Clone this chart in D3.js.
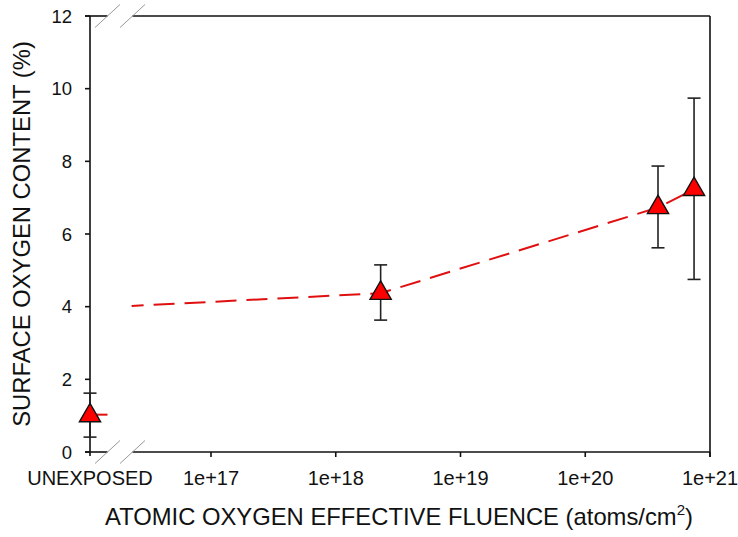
<!DOCTYPE html>
<html><head><meta charset="utf-8">
<script src="https://cdn.jsdelivr.net/npm/d3@7"></script>
<style>
body{margin:0;background:#fff;}
text{font-family:"Liberation Sans",Arial,sans-serif;fill:#111;}
</style></head>
<body><svg id="c" width="738" height="537"></svg>
<script>
// ---- data ----
const unexposedLabel = "UNEXPOSED";
const unexposedValue = 1.0;
const unexposedErrLow = 0.41;
const unexposedErrHigh = 1.62;

const fluence = [2.29e18, 3.83e20, 7.45e20];
const oxygen = [4.37, 6.73, 7.23];
const errLow = [3.63, 5.62, 4.75];
const errHigh = [5.15, 7.87, 9.74];

// dashed trend line vertices (starts at axis break)
const lineFluence = [2.31e16, 2.29e18, 3.83e20, 7.45e20];
const lineOxygen = [4.02, 4.37, 6.73, 7.23];

const xTickValues = [1e17, 1e18, 1e19, 1e20, 1e21];
const xTickLabels = ["1e+17", "1e+18", "1e+19", "1e+20", "1e+21"];
const yTickValues = [0, 2, 4, 6, 8, 10, 12];

// ---- layout ----
const svg = d3.select("#c");
const L = 90, R = 710, T = 16, B = 452;
const breakA = 107.5, breakB = 132.5;

const y = d3.scaleLinear().domain([0, 12]).range([B, T]);
const x = d3.scaleLog().domain([1e17, 1e21]).range([211, R]);
const xUnexp = L;

// axes lines
const ax = svg.append("g").attr("stroke", "#111").attr("stroke-width", 1.6).attr("fill", "none");
ax.append("line").attr("x1", L).attr("x2", L).attr("y1", T).attr("y2", B + 4);
ax.append("line").attr("x1", R).attr("x2", R).attr("y1", T).attr("y2", B + 5);
ax.append("line").attr("x1", L - 5).attr("x2", breakA).attr("y1", B).attr("y2", B);
ax.append("line").attr("x1", breakB).attr("x2", R).attr("y1", B).attr("y2", B);
ax.append("line").attr("x1", L - 5).attr("x2", breakA).attr("y1", T).attr("y2", T);
ax.append("line").attr("x1", breakB).attr("x2", R).attr("y1", T).attr("y2", T);

// break slashes
const sl = svg.append("g").attr("stroke", "#999").attr("stroke-width", 1);
[T, B].forEach(yy => {
  [breakA, breakB].forEach(xx => {
    sl.append("line").attr("x1", xx - 12.5).attr("y1", yy + 11.5).attr("x2", xx + 12.5).attr("y2", yy - 11.5);
  });
});

// y ticks
yTickValues.forEach(v => {
  ax.append("line").attr("x1", L - 5).attr("x2", L).attr("y1", y(v)).attr("y2", y(v));
  svg.append("text").attr("x", 72).attr("y", y(v)).attr("dy", "0.36em")
    .attr("text-anchor", "end").attr("font-size", 18.5).text(v);
});

// x ticks
xTickValues.forEach((v, i) => {
  ax.append("line").attr("x1", x(v)).attr("x2", x(v)).attr("y1", B).attr("y2", B + 5);
  svg.append("text").attr("x", x(v)).attr("y", 485).attr("text-anchor", "middle")
    .attr("font-size", 20).text(xTickLabels[i]);
});
svg.append("text").attr("x", xUnexp).attr("y", 485).attr("text-anchor", "middle")
  .attr("font-size", 20).text(unexposedLabel);

// titles
svg.append("text").attr("transform", "translate(30,234) rotate(-90)")
  .attr("text-anchor", "middle").attr("font-size", 23.8).text("SURFACE OXYGEN CONTENT (%)");
const xt = svg.append("text").attr("x", 399).attr("y", 525).attr("text-anchor", "middle").attr("font-size", 23.8);
xt.append("tspan").text("ATOMIC OXYGEN EFFECTIVE FLUENCE (atoms/cm");
xt.append("tspan").attr("font-size", 15).attr("dy", -10).text("2");
xt.append("tspan").attr("dy", 10).text(")");

// trend line
const red = "#e01010";
svg.append("path")
  .datum(lineFluence.map((f, i) => [x(f), y(lineOxygen[i])]))
  .attr("d", d3.line())
  .attr("fill", "none").attr("stroke", red).attr("stroke-width", 2)
  .attr("stroke-dasharray", "21,10").attr("stroke-dashoffset", 9);
svg.append("line").attr("x1", xUnexp).attr("x2", breakA)
  .attr("y1", y(unexposedValue) - 1).attr("y2", y(unexposedValue) - 1)
  .attr("stroke", red).attr("stroke-width", 2);

// error bars
const eb = svg.append("g").attr("stroke", "#222").attr("stroke-width", 1.6);
const allX = [xUnexp].concat(fluence.map(f => x(f)));
const allLo = [unexposedErrLow].concat(errLow);
const allHi = [unexposedErrHigh].concat(errHigh);
const allV = [unexposedValue].concat(oxygen);
allX.forEach((px, i) => {
  eb.append("line").attr("x1", px).attr("x2", px).attr("y1", y(allLo[i])).attr("y2", y(allHi[i]));
  eb.append("line").attr("x1", px - 6.5).attr("x2", px + 6.5).attr("y1", y(allLo[i])).attr("y2", y(allLo[i]));
  eb.append("line").attr("x1", px - 6.5).attr("x2", px + 6.5).attr("y1", y(allHi[i])).attr("y2", y(allHi[i]));
});

// markers
const tri = d3.symbol().type(d3.symbolTriangle).size(195);
allX.forEach((px, i) => {
  svg.append("path").attr("d", tri()).attr("transform", `translate(${px},${y(allV[i])})`)
    .attr("fill", "#ff0000").attr("stroke", "#111").attr("stroke-width", 1.4);
});
</script></body></html>
